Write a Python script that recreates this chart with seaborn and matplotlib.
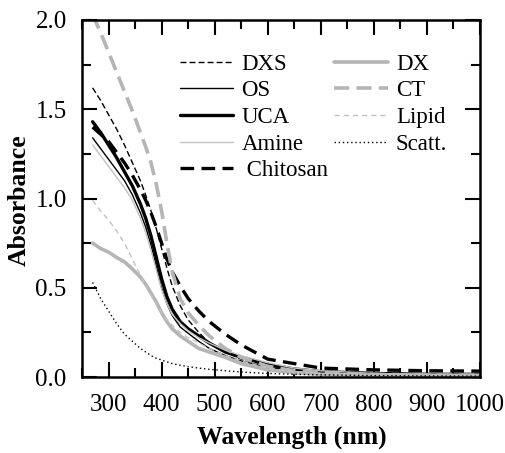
import matplotlib
matplotlib.use("Agg")
import matplotlib.pyplot as plt
import seaborn as sns

# Wavelength grid (nm) shared by all spectra
wavelength = [270, 285, 300, 315, 330, 345, 360, 370, 380, 390, 400, 410, 420,
              435, 450, 470, 490, 520, 550, 600, 650, 700, 800, 900, 1000]

# Absorbance spectra
dxs = [1.62, 1.55, 1.47, 1.39, 1.30, 1.20, 1.10, 1.02, 0.93, 0.83, 0.72, 0.61, 0.51,
       0.40, 0.32, 0.25, 0.19, 0.14, 0.10, 0.065, 0.04, 0.03, 0.02, 0.015, 0.01]
os_ = [1.34, 1.28, 1.22, 1.16, 1.10, 1.02, 0.92, 0.84, 0.74, 0.62, 0.50, 0.41, 0.345,
       0.28, 0.245, 0.20, 0.16, 0.12, 0.09, 0.055, 0.035, 0.025, 0.015, 0.01, 0.01]
uca = [1.43, 1.37, 1.30, 1.23, 1.15, 1.07, 0.97, 0.89, 0.79, 0.67, 0.55, 0.45, 0.38,
       0.31, 0.27, 0.23, 0.19, 0.14, 0.11, 0.07, 0.045, 0.03, 0.02, 0.015, 0.015]
amine = [1.30, 1.24, 1.18, 1.12, 1.06, 0.99, 0.89, 0.81, 0.71, 0.60, 0.49, 0.41, 0.35,
         0.30, 0.26, 0.22, 0.19, 0.15, 0.12, 0.08, 0.05, 0.035, 0.02, 0.015, 0.01]
chitosan = [1.40, 1.36, 1.32, 1.26, 1.20, 1.13, 1.05, 0.99, 0.92, 0.84, 0.75, 0.66, 0.59,
            0.51, 0.44, 0.37, 0.31, 0.24, 0.18, 0.10, 0.075, 0.05, 0.04, 0.035, 0.033]
dx = [0.75, 0.72, 0.70, 0.67, 0.645, 0.605, 0.56, 0.52, 0.47, 0.42, 0.36, 0.31, 0.27,
      0.23, 0.20, 0.16, 0.14, 0.11, 0.075, 0.04, 0.025, 0.015, 0.01, 0.01, 0.01]
ct = [2.03, 1.93, 1.82, 1.71, 1.60, 1.49, 1.37, 1.29, 1.20, 1.08, 0.93, 0.75, 0.59,
      0.44, 0.36, 0.29, 0.23, 0.16, 0.11, 0.06, 0.035, 0.025, 0.015, 0.01, 0.01]
lipid = [0.99, 0.93, 0.88, 0.82, 0.75, 0.66, 0.57, 0.51, 0.46, 0.41, 0.36, 0.32, 0.29,
         0.25, 0.22, 0.19, 0.16, 0.12, 0.09, 0.05, 0.03, 0.02, 0.012, 0.01, 0.01]
scatt = [0.53, 0.44, 0.37, 0.30, 0.24, 0.20, 0.16, 0.14, 0.12, 0.105, 0.095, 0.085, 0.075,
         0.066, 0.058, 0.05, 0.043, 0.035, 0.028, 0.02, 0.015, 0.012, 0.008, 0.006, 0.005]

labels = ["DXS", "OS", "UCA", "Amine", " Chitosan", "DX", "CT", "Lipid", "Scatt."]
series = [dxs, os_, uca, amine, chitosan, dx, ct, lipid, scatt]

GRAY = "#b5b5b5"
LIGHT = "#c2c2c2"
styles = [
    dict(color="black", lw=1.0, dashes=(4.3, 2.2)),
    dict(color="black", lw=1.0, dashes=None),
    dict(color="black", lw=2.4, dashes=None),
    dict(color=LIGHT, lw=1.0, dashes=None),
    dict(color="black", lw=2.4, dashes=(4.1, 2.2)),
    dict(color=GRAY, lw=2.6, dashes=None),
    dict(color=GRAY, lw=2.6, dashes=(4.2, 2.0)),
    dict(color=LIGHT, lw=1.0, dashes=(3.8, 2.8)),
    dict(color="black", lw=1.0, dashes=(1, 2)),
]

sns.set_style("ticks")
plt.rcParams["font.family"] = ["Liberation Serif", "DejaVu Serif"]
for key in ("text.color", "axes.labelcolor", "xtick.color", "ytick.color",
            "axes.edgecolor"):
    plt.rcParams[key] = "black"

fig = plt.figure(figsize=(5.05, 4.53), dpi=100)
ax = fig.add_axes([82 / 505, 1 - 377 / 453, 398 / 505, 357 / 453])

for lab, vals, st in zip(labels, series, styles):
    sns.lineplot(x=wavelength, y=vals, ax=ax, color=st["color"],
                 linewidth=st["lw"], label=lab)
    ln = ax.get_lines()[-1]
    if st["dashes"] is not None:
        ln.set_dashes(st["dashes"])

ax.set_xlim(250, 1000)
ax.set_ylim(0, 2.0)
ax.set_xticks(range(300, 1001, 100))
ax.set_xticks(range(250, 1001, 50), minor=True)
ax.set_yticks([0, 0.5, 1.0, 1.5, 2.0])
ax.set_yticks([0.25, 0.75, 1.25, 1.75], minor=True)
ax.set_yticklabels(["0.0", "0.5", "1.0", "1.5", "2.0"])
ax.set_xticklabels([str(v) for v in range(300, 1001, 100)])

ax.tick_params(which="both", direction="in", top=True, right=True,
               colors="black", labelcolor="black", labelsize=18)
ax.tick_params(axis="x", pad=12)
ax.tick_params(axis="y", pad=11)
ax.tick_params(which="major", length=10.5, width=1.5)
ax.tick_params(which="minor", length=6.5, width=1.5)
for sp in ax.spines.values():
    sp.set_linewidth(1.8)
    sp.set_color("black")

ax.set_xlabel("Wavelength (nm)", fontsize=18.5, fontweight="bold")
ax.xaxis.set_label_coords(0.528, -0.135)
ax.set_ylabel("Absorbance", fontsize=18.5, fontweight="bold")
ax.yaxis.set_label_coords(-0.128, 0.495)

leg = ax.legend(loc="upper left", bbox_to_anchor=(0.245, 0.905), ncol=2,
                frameon=False, fontsize=16.5, handlelength=2.35,
                handletextpad=0.35, columnspacing=0.25, labelspacing=0.24,
                borderpad=0, borderaxespad=0)
for h, st in zip(leg.get_lines(), styles):
    if st["dashes"] is not None:
        h.set_dashes(st["dashes"])

fig.savefig("out.png", dpi=100)
